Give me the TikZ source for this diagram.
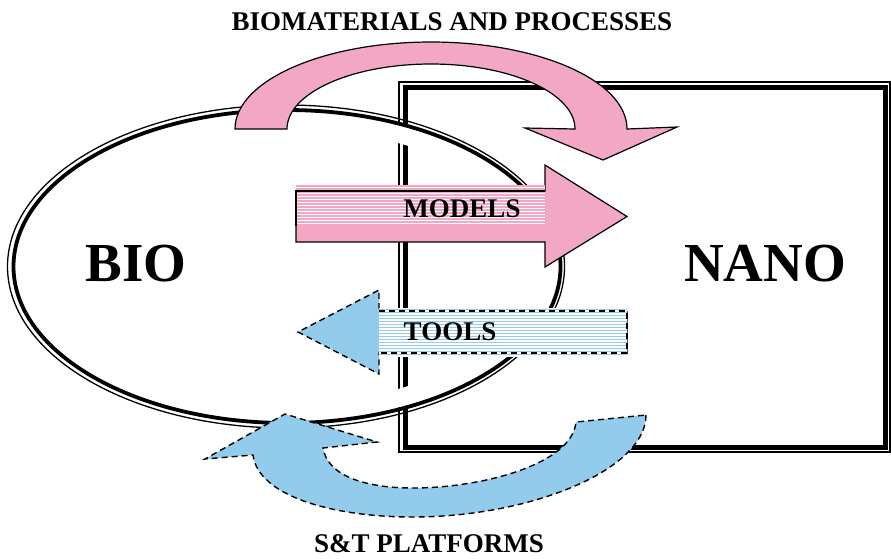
\documentclass[tikz,border=0pt]{standalone}
\usepackage{fontspec}
\setmainfont{Liberation Serif}
\usepackage{xcolor}
\definecolor{bnpink}{RGB}{242,168,196}
\definecolor{bnblue}{RGB}{146,203,236}

\begin{document}
\begin{tikzpicture}[x=1pt,y=-1pt,
  lbl/.style={font=\bfseries\fontsize{27}{30}\selectfont, inner sep=0pt},
  big/.style={font=\bfseries\fontsize{55}{60}\selectfont, inner sep=0pt},
  pinkshape/.style={fill=bnpink, draw=black, line width=1.2pt},
  blueshape/.style={fill=bnblue, draw=black, line width=1.4pt, dash pattern=on 6pt off 4pt}]
\useasboundingbox (0,0) rectangle (891,558);

% NANO box
\draw[line width=1.2pt] (399,82) rectangle (890,452);
\draw[line width=4.5pt] (405.5,87.5) rectangle (885.5,447.5);

% BIO oval
\draw[white, line width=18pt] (287,266) ellipse [x radius=262, y radius=146];
\draw[line width=1.3pt] (286,266.5) ellipse [x radius=278.5, y radius=161.5];
\draw[line width=3.8pt] (287,266.5) ellipse [x radius=273.5, y radius=156.5];

% biomaterials and processes
\draw[pinkshape] (235,129) arc[start angle=180, end angle=360, x radius=196, y radius=87]
  -- (677,127) -- (603,160) -- (525,128) -- (575,129)
  arc[start angle=0, end angle=-180, x radius=144, y radius=65] -- cycle;

% models
\draw[pinkshape] (296,191) -- (545,191) -- (545,165) -- (627,216.5) -- (545,267)
  -- (545,242) -- (296,242) -- cycle;
\fill[bnpink] (296,185) rectangle (545,226);
\foreach \yy in {187,190,...,224}
  \draw[white, line width=0.9pt] (296,\yy) -- (545,\yy);
\draw[line width=1.2pt] (296,226) -- (296,191) -- (545,191);

% tools
\draw[blueshape] (627,311) -- (379,311) -- (379,290) -- (298,332) -- (379,374)
  -- (379,353) -- (627,353) -- cycle;
\fill[white] (379,308) rectangle (627,357);
\foreach \yy in {309.5,312.5,...,356}
  \draw[bnblue, line width=1.8pt] (379,\yy) -- (627,\yy);
\draw[black, line width=1.4pt, dash pattern=on 6pt off 4pt]
  (379,311) -- (627,311) -- (627,353) -- (379,353);

% S&T platforms
\draw[blueshape] (646,415) .. controls (646,470) and (530,517) .. (413,517)
  .. controls (330,517) and (258,495) .. (253,455)
  -- (205,459) -- (285,414) -- (377,442) -- (323,448)
  .. controls (328,478) and (370,488) .. (413,488)
  .. controls (480,488) and (572,465) .. (576,422) -- cycle;

\node[lbl] (biomat) at (452,22) {BIOMATERIALS AND PROCESSES};
\node[lbl] (models) at (462,209) {MODELS};
\node[lbl] (tools) at (450,332) {TOOLS};
\node[lbl] (platforms) at (429,544) {S\&T PLATFORMS};
\node[big] (bio) at (136,264) {BIO};
\node[big] (nano) at (765,264) {NANO};
\end{tikzpicture}
\end{document}
